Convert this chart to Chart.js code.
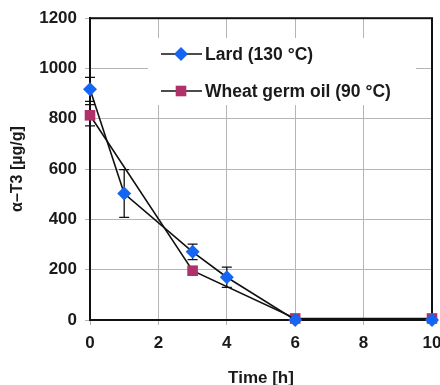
<!DOCTYPE html>
<html>
<head>
<meta charset="utf-8">
<script src="https://cdn.jsdelivr.net/npm/chart.js@4.4.1/dist/chart.umd.min.js"></script>
<style>
  html, body { margin:0; padding:0; background:#fff; overflow:hidden; }
  #wrap { position:relative; width:460px; height:385px; }
</style>
</head>
<body>
<div id="wrap"><canvas id="c"></canvas></div>
<script>
// data
const timeLard  = [0, 1, 3, 4, 6, 10];
const lard      = [917, 503, 271, 170, 0, 0];
const lardErr   = [48, 95, 31, 40, 0, 0];
const timeWheat = [0, 3, 6, 10];
const wheat     = [814, 196, 6, 6];
const wheatErr  = [42, 0, 0, 0];
const seriesNames = ['Lard (130 °C)', 'Wheat germ oil (90 °C)'];

const BLUE = '#1466f2';
const MAGENTA = '#b0306a';
const FONT = '"Liberation Sans", Arial, sans-serif';

// error bars, box outline and white legend backing
const extras = {
  id: 'extras',
  beforeDatasetsDraw(chart) {
    const { ctx, chartArea: a, scales: { x, y } } = chart;
    ctx.save();
    // legend backing
    ctx.fillStyle = '#fff';
    ctx.fillRect(148, 38, 268, 67);
    // outline
    ctx.strokeStyle = '#111';
    ctx.lineWidth = 2;
    ctx.strokeRect(a.left, a.top, a.right - a.left, a.bottom - a.top);
    // error bars
    ctx.lineWidth = 1.3;
    const bars = (xs, ys, es) => xs.forEach((t, i) => {
      if (!es[i]) return;
      const px = x.getPixelForValue(t);
      const hi = y.getPixelForValue(ys[i] + es[i]);
      const lo = y.getPixelForValue(ys[i] - es[i]);
      ctx.beginPath();
      ctx.moveTo(px, hi); ctx.lineTo(px, lo);
      ctx.moveTo(px - 5, hi); ctx.lineTo(px + 5, hi);
      ctx.moveTo(px - 5, lo); ctx.lineTo(px + 5, lo);
      ctx.stroke();
    });
    bars(timeLard, lard, lardErr);
    bars(timeWheat, wheat, wheatErr);
    ctx.restore();
  },
  afterDraw(chart) {
    const { ctx } = chart;
    ctx.save();
    const rows = [
      { y: 54, color: BLUE, style: 'rectRot', r: 7 },
      { y: 91, color: MAGENTA, style: 'rect', r: 7.5 }
    ];
    rows.forEach((row, i) => {
      ctx.strokeStyle = '#111';
      ctx.lineWidth = 1.6;
      ctx.beginPath();
      ctx.moveTo(161, row.y); ctx.lineTo(202, row.y);
      ctx.stroke();
      ctx.fillStyle = row.color;
      Chart.helpers.drawPoint(ctx, { pointStyle: row.style, radius: row.r, borderWidth: 0 }, 181, row.y);
      ctx.fillStyle = '#1a1a1a';
      ctx.font = 'bold 17.5px ' + FONT;
      ctx.textBaseline = 'middle';
      ctx.fillText(seriesNames[i], 205, row.y + 1);
    });
    ctx.restore();
  }
};

new Chart(document.getElementById('c'), {
  type: 'scatter',
  data: {
    datasets: [
      {
        label: seriesNames[0],
        data: timeLard.map((t, i) => ({ x: t, y: lard[i] })),
        showLine: true, borderColor: '#111', borderWidth: 1.6, clip: false,
        pointStyle: 'rectRot', pointRadius: 7, pointBackgroundColor: BLUE, pointBorderWidth: 0
      },
      {
        label: seriesNames[1],
        data: timeWheat.map((t, i) => ({ x: t, y: wheat[i] })),
        showLine: true, borderColor: '#111', borderWidth: 1.6, clip: false,
        pointStyle: 'rect', pointRadius: 7.5, pointBackgroundColor: MAGENTA, pointBorderWidth: 0
      }
    ]
  },
  options: {
    responsive: true, maintainAspectRatio: false, animation: false,
    layout: { padding: { top: 18, right: 28, left: 0, bottom: 0 } },
    plugins: { legend: { display: false }, tooltip: { enabled: false } },
    scales: {
      x: {
        type: 'linear', min: 0, max: 10,
        afterFit: s => { s.height = 65; },
        grid: { color: '#b5b5b5', lineWidth: 1, tickLength: 5, tickColor: '#b5b5b5' },
        border: { color: '#111', width: 2 },
        ticks: { stepSize: 2, color: '#1a1a1a', font: { family: FONT, size: 17, weight: 'bold' }, padding: 8, callback: v => String(v) },
        title: { display: true, text: 'Time [h]', color: '#1a1a1a', font: { family: FONT, size: 17, weight: 'bold' }, padding: { top: 4, bottom: -4 } }
      },
      y: {
        min: 0, max: 1200,
        afterFit: s => { s.width = 90; },
        grid: { color: '#b5b5b5', lineWidth: 1, tickLength: 5, tickColor: '#b5b5b5' },
        border: { color: '#111', width: 2 },
        ticks: { stepSize: 200, color: '#1a1a1a', font: { family: FONT, size: 17, weight: 'bold' }, padding: 8, callback: v => String(v) },
        title: { display: true, text: 'α–T3 [µg/g]', color: '#1a1a1a', font: { family: FONT, size: 16, weight: 'bold' }, padding: { top: 8, bottom: 0 } }
      }
    }
  },
  plugins: [extras]
});
</script>
</body>
</html>
